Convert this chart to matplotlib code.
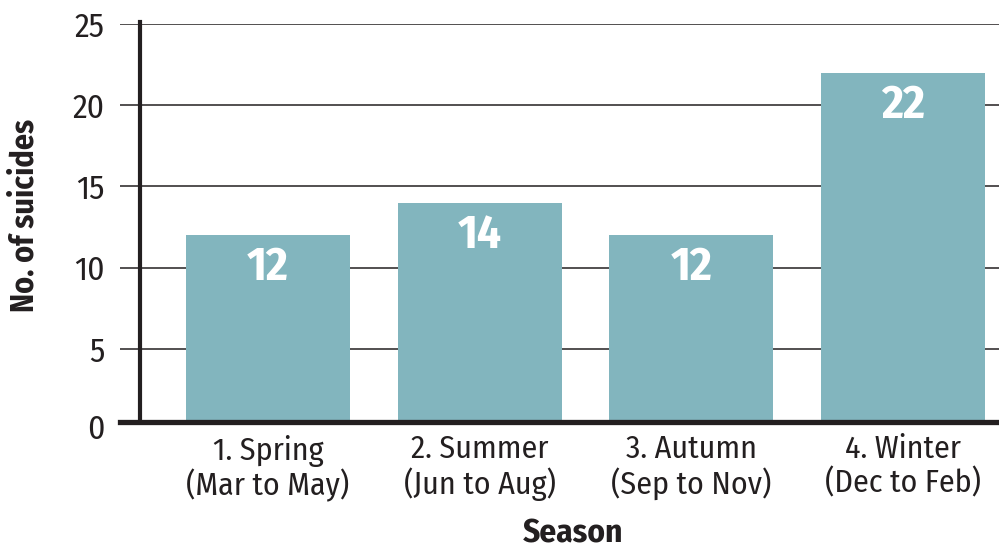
import matplotlib.pyplot as plt
from matplotlib import font_manager as fm

# pick a condensed sans close to the reference (Myriad Condensed look)
installed = {f.name for f in fm.fontManager.ttflist}
wanted = ['Fira Sans Condensed', 'PT Sans Narrow', 'Open Sans Condensed',
          'Asap Condensed', 'Barlow Semi Condensed', 'Archivo Narrow']
font = next((f for f in wanted if f in installed), 'DejaVu Sans')
plt.rcParams['font.family'] = [font, 'DejaVu Sans']

seasons = ['1. Spring\n(Mar to May)', '2. Summer\n(Jun to Aug)',
           '3. Autumn\n(Sep to Nov)', '4. Winter\n(Dec to Feb)']
suicides = [12, 14, 12, 22]
yticks = [5, 10, 15, 20, 25]

fig = plt.figure(figsize=(9.99, 5.46), dpi=100)
ax = fig.add_axes([0.1201, 0.2271, 0.8799, 0.7289])

x = range(len(seasons))
ax.bar(x, suicides, width=0.775, color='#82b5be', zorder=2)

for i, v in zip(x, suicides):
    ax.text(i, v - 2.0, str(v), ha='center', va='center', color='white',
            fontsize=34, fontweight='bold', zorder=3)

ax.set_xlim(-0.699, 3.453)
ax.set_ylim(0.5, 25)
ax.set_yticks(yticks)
ax.set_xticks(list(x))
ax.set_xticklabels(seasons, fontsize=23, color='#231f20', linespacing=1.1)
ax.tick_params(axis='y', length=0, pad=11, labelsize=24, labelcolor='#231f20')
ax.tick_params(axis='x', length=0, pad=9)
# 0 label sits on the true zero, just below the axis line
ax.text(-0.699 - 15 / 211.67, 0, '0', ha='right', va='center',
        fontsize=24, color='#231f20', clip_on=False)

ax.yaxis.grid(True, color='#231f20', linewidth=1.1, zorder=1)
ax.set_axisbelow(True)

for s in ['top', 'right', 'left']:
    ax.spines[s].set_visible(False)
ax.spines['bottom'].set_linewidth(3.8)
ax.spines['bottom'].set_color('#231f20')
ax.spines['bottom'].set_zorder(4)
ax.axvline(-0.605, ymin=0, ymax=1.005, color='#231f20', linewidth=3.0,
           clip_on=False, zorder=4)

ax.set_xlabel('Season', fontsize=24, fontweight='bold', color='#231f20')
ax.xaxis.set_label_coords(0.516, -0.24)
ax.set_ylabel('No. of suicides', fontsize=23, fontweight='bold', color='#231f20')
ax.yaxis.set_label_coords(-0.09, 0.52)

plt.savefig('out.png', dpi=100)
